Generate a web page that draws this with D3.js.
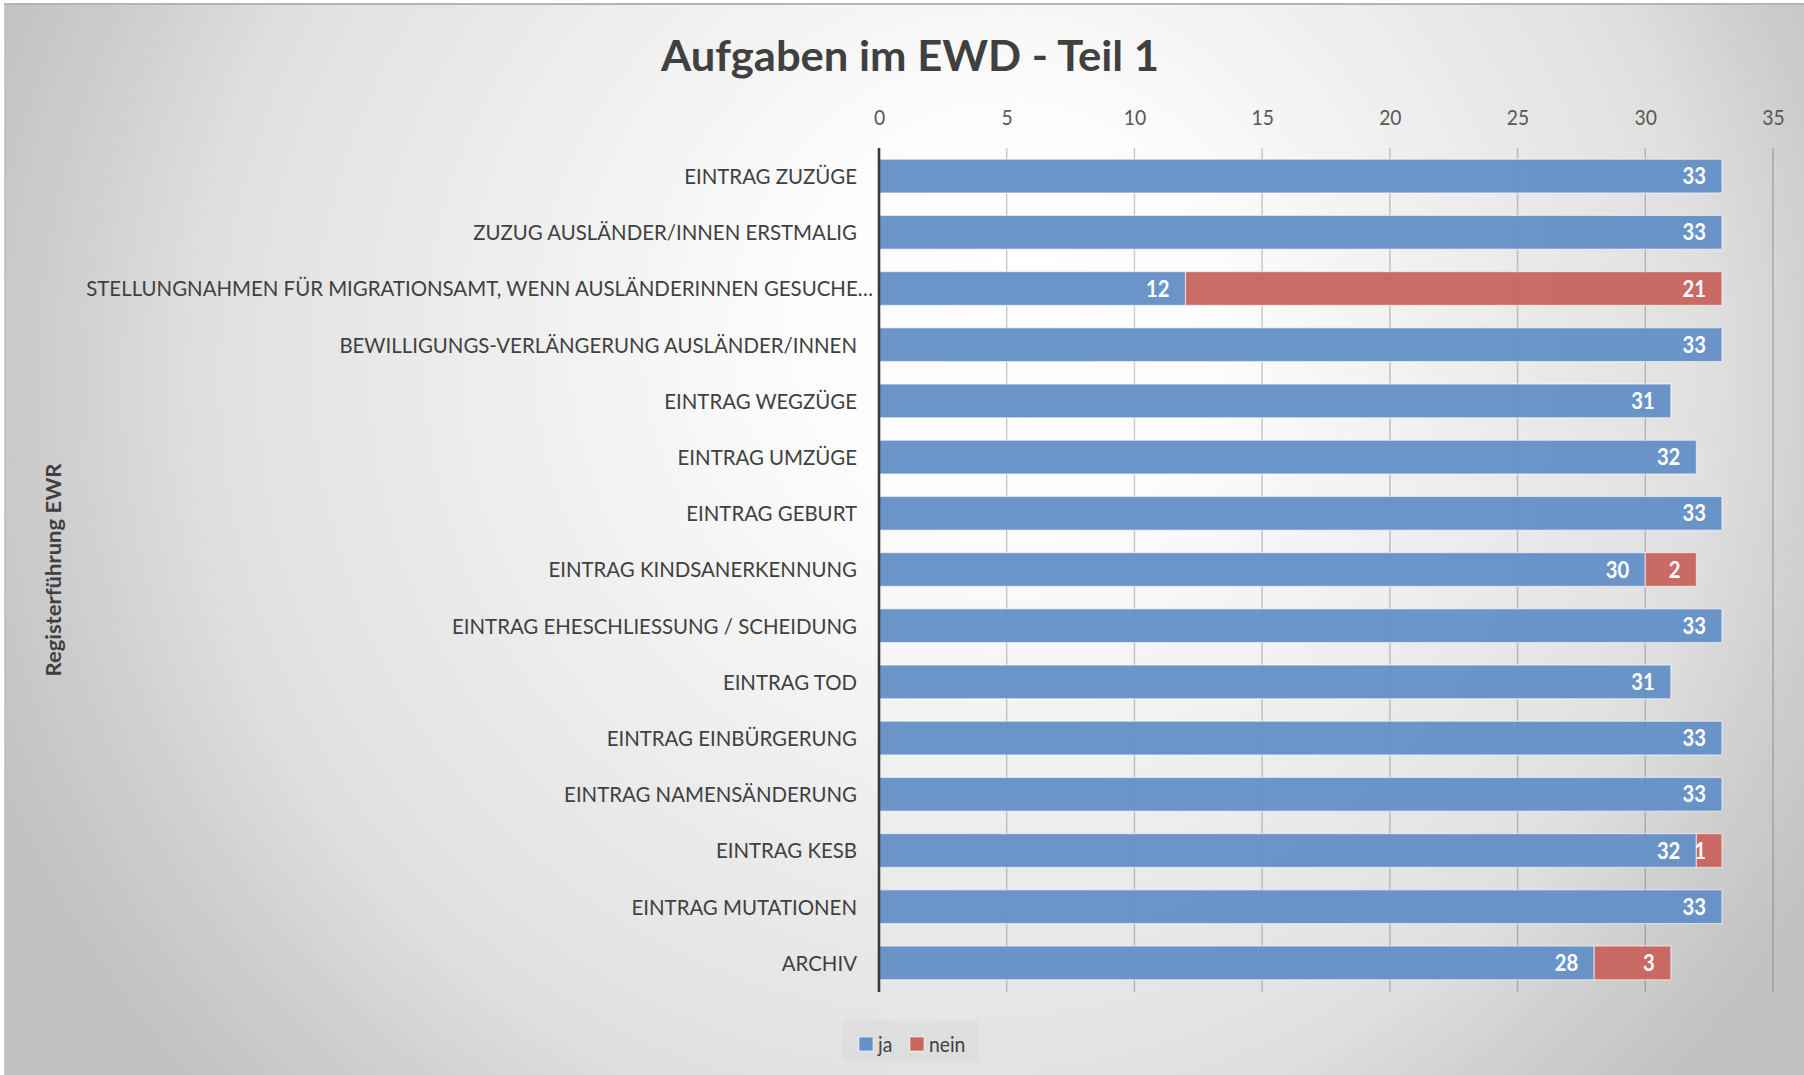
<!DOCTYPE html>
<html>
<head>
<meta charset="utf-8">
<script src="https://cdn.jsdelivr.net/npm/d3@7"></script>
<style>
  html, body { margin: 0; padding: 0; background: #ffffff; }
  svg { display: block; }
</style>
</head>
<body>
<svg id="chart" width="1804" height="1075"></svg>
<script>
// ---------- data ----------
const chartTitle = "Aufgaben im EWD - Teil 1";
const axisTitle = "Registerführung EWR";
const categories = [
  "EINTRAG ZUZÜGE",
  "ZUZUG AUSLÄNDER/INNEN ERSTMALIG",
  "STELLUNGNAHMEN FÜR MIGRATIONSAMT, WENN AUSLÄNDERINNEN GESUCHE…",
  "BEWILLIGUNGS-VERLÄNGERUNG AUSLÄNDER/INNEN",
  "EINTRAG WEGZÜGE",
  "EINTRAG UMZÜGE",
  "EINTRAG GEBURT",
  "EINTRAG KINDSANERKENNUNG",
  "EINTRAG EHESCHLIESSUNG / SCHEIDUNG",
  "EINTRAG TOD",
  "EINTRAG EINBÜRGERUNG",
  "EINTRAG NAMENSÄNDERUNG",
  "EINTRAG KESB",
  "EINTRAG MUTATIONEN",
  "ARCHIV"
];
const seriesNames = ["ja", "nein"];
const jaValues   = [33, 33, 12, 33, 31, 32, 33, 30, 33, 31, 33, 33, 32, 33, 28];
const neinValues = [ 0,  0, 21,  0,  0,  0,  0,  2,  0,  0,  0,  0,  1,  0,  3];
const xTicks = [0, 5, 10, 15, 20, 25, 30, 35];

// ---------- layout / style ----------
const W = 1804, H = 1075;
const plot = { left: 879, right: 1773, top: 148, bottom: 991 };
const colors = { ja: "#6591c7", nein: "#c9655f" };
const textColor = "#404040";
const FONT = "Lato, 'Open Sans', 'DejaVu Sans', sans-serif";

const svg = d3.select("#chart");
const defs = svg.append("defs");

// background gradient
const grad = defs.append("radialGradient")
  .attr("id", "bg").attr("gradientUnits", "userSpaceOnUse")
  .attr("cx", 930).attr("cy", 400).attr("r", 1000)
  .attr("fx", 1030).attr("fy", 300);
[[0, "#ffffff"], [0.2, "#fdfdfd"], [0.5, "#ededed"], [0.75, "#e0e0e0"], [0.88, "#cfcfcf"], [1, "#c2c2c2"]]
  .forEach(([o, c]) => grad.append("stop").attr("offset", o).attr("stop-color", c));

svg.append("rect").attr("x", 0).attr("y", 0).attr("width", W).attr("height", H).attr("fill", "#ffffff");
svg.append("rect").attr("x", 5).attr("y", 4).attr("width", W - 5).attr("height", H - 4).attr("fill", "url(#bg)");
svg.append("line").attr("x1", 4).attr("x2", W).attr("y1", 4).attr("y2", 4)
  .attr("stroke", "#b4b4b4").attr("stroke-width", 2);
svg.append("line").attr("x1", 5).attr("x2", 5).attr("y1", 4).attr("y2", H)
  .attr("stroke", "#bdbdbd").attr("stroke-width", 1.5);

// scales
const x = d3.scaleLinear().domain([0, 35]).range([plot.left, plot.right]);
const y = d3.scaleBand().domain(categories).range([plot.top, plot.bottom])
  .paddingInner(0.4).paddingOuter(0.2);

// helper: compress Lato to Calibri-like widths
function fitWidth(sel, k) {
  sel.each(function () {
    const w = this.getComputedTextLength();
    this.setAttribute("textLength", w * k);
    this.setAttribute("lengthAdjust", "spacingAndGlyphs");
  });
}

// title
const title = svg.append("text")
  .attr("x", 910).attr("y", 71).attr("text-anchor", "middle")
  .attr("font-family", FONT).attr("font-weight", 700).attr("font-size", 42)
  .attr("fill", textColor).text(chartTitle);
{
  const w = title.node().getComputedTextLength();
  fitWidth(title, 498 / w);
}

// gridlines
svg.append("g").selectAll("line").data(xTicks.filter(t => t > 0)).join("line")
  .attr("x1", d => x(d)).attr("x2", d => x(d))
  .attr("y1", plot.top).attr("y2", plot.bottom + 1)
  .attr("stroke", "rgba(0,0,0,0.2)").attr("stroke-width", 1.5);

// top axis tick labels
const xAxis = d3.axisTop(x).tickValues(xTicks).tickSize(0).tickPadding(0);
const gx = svg.append("g").attr("transform", `translate(0,${125})`).call(xAxis);
gx.select(".domain").remove();
gx.selectAll("text").attr("font-family", FONT).attr("font-size", 21)
  .attr("fill", "#595959");
fitWidth(gx.selectAll("text"), 0.92);

// stacked bars
const stackData = categories.map((c, i) => ({ cat: c, ja: jaValues[i], nein: neinValues[i] }));
const stacked = d3.stack().keys(seriesNames)(stackData);

const gBars = svg.append("g");
stacked.forEach(layer => {
  const key = layer.key;
  gBars.append("g").selectAll("rect").data(layer.filter(d => d[1] - d[0] > 0)).join("rect")
    .attr("x", d => x(d[0]))
    .attr("y", d => y(d.data.cat))
    .attr("width", d => x(d[1]) - x(d[0]))
    .attr("height", y.bandwidth())
    .attr("fill", colors[key]).attr("fill-opacity", 0.96)
    .attr("stroke", "rgba(255,255,255,0.55)").attr("stroke-width", 1.2);
});

// data labels
const gLab = svg.append("g");
stacked.forEach(layer => {
  const key = layer.key;
  gLab.append("g").selectAll("text").data(layer.filter(d => d[1] - d[0] > 0)).join("text")
    .attr("x", d => x(d[1]) - 16)
    .attr("y", d => y(d.data.cat) + y.bandwidth() / 2)
    .attr("dy", "0.37em")
    .attr("text-anchor", "end")
    .attr("font-family", FONT).attr("font-weight", 700).attr("font-size", 22)
    .attr("fill", "#ffffff")
    .text(d => d[1] - d[0]);
});
fitWidth(gLab.selectAll("text"), 0.92);

// y axis line
svg.append("line").attr("x1", x(0)).attr("x2", x(0))
  .attr("y1", plot.top).attr("y2", plot.bottom + 1)
  .attr("stroke", "#3a3a3a").attr("stroke-width", 2.6);

// category labels
const gy = svg.append("g");
const catText = gy.selectAll("text").data(categories).join("text")
  .attr("x", d => d.endsWith("…") ? x(0) - 6 : x(0) - 22)
  .attr("y", d => y(d) + y.bandwidth() / 2)
  .attr("dy", "0.37em")
  .attr("text-anchor", "end")
  .attr("font-family", FONT).attr("font-size", 21.5)
  .attr("fill", textColor)
  .text(d => d);
{
  let ref = 0;
  catText.each(function (d) { if (d === "EINTRAG EHESCHLIESSUNG / SCHEIDUNG") ref = this.getComputedTextLength(); });
  fitWidth(catText, 405 / ref);
}

// axis title
const at = svg.append("text")
  .attr("transform", `translate(61,${570}) rotate(-90)`)
  .attr("text-anchor", "middle")
  .attr("font-family", FONT).attr("font-weight", 700).attr("font-size", 20)
  .attr("fill", textColor).text(axisTitle);
{
  const w = at.node().getComputedTextLength();
  fitWidth(at, 213 / w);
}

// legend
const legend = svg.append("g");
legend.append("rect").attr("x", 843).attr("y", 1021).attr("width", 136).attr("height", 40)
  .attr("fill", "rgba(0,0,0,0.025)");
const legItems = [{ k: "ja", sx: 859 }, { k: "nein", sx: 910 }];
legItems.forEach(it => {
  legend.append("rect").attr("x", it.sx).attr("y", 1037).attr("width", 14).attr("height", 14)
    .attr("fill", colors[it.k]).attr("stroke", "rgba(255,255,255,0.6)").attr("stroke-width", 1);
  const t = legend.append("text").attr("x", it.sx + 19).attr("y", 1044).attr("dy", "0.36em")
    .attr("font-family", FONT).attr("font-size", 21).attr("fill", textColor).text(it.k);
  fitWidth(t, 0.92);
});
</script>
</body>
</html>
